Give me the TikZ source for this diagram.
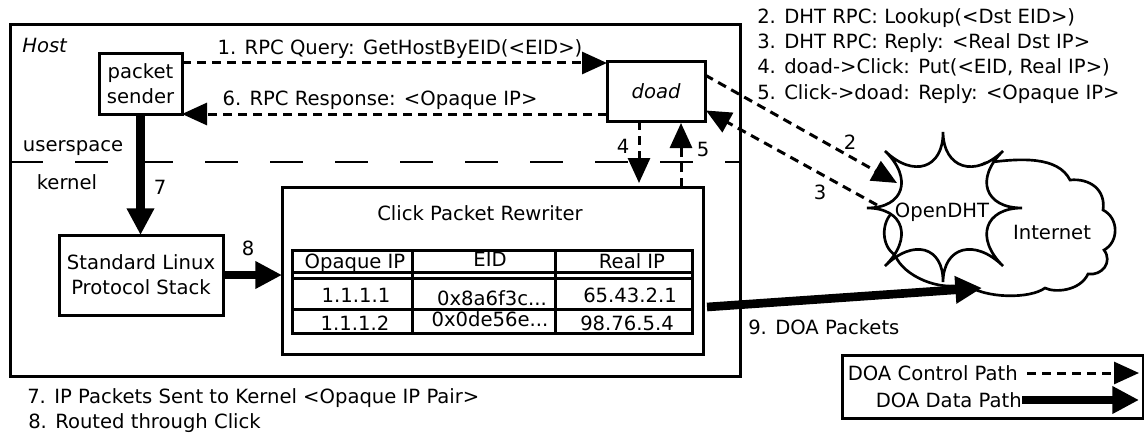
\documentclass[tikz,border=0pt]{standalone}
\usepackage{fontspec}
\setmainfont{DejaVu Sans}
\usetikzlibrary{arrows.meta,calc}
\begin{document}
\begin{tikzpicture}[x=0.75pt,y=-0.75pt,
  font=\fontsize{14.7pt}{18.75pt}\selectfont,
  box/.style={draw, line width=2.25pt, inner sep=0pt, outer sep=0pt, fill=white},
  ctrl/.style={line width=2.25pt, dash pattern=on 6.75pt off 4.5pt, -{Triangle[length=18.75pt,width=16.5pt]}},
  data/.style={line width=6.5pt, -{Triangle[length=20pt,width=19.5pt]}},
  lbl/.style={inner sep=0pt, text height=10.7pt, text depth=0pt},
  tline/.style={line width=2.25pt},
  cloudline/.style={line width=2pt, fill=white}
]
\useasboundingbox (0,0) rectangle (1144,435);

% host
\node[box, minimum width=547.5pt, minimum height=263.25pt] (host) at (375,200.5) {};
\node[lbl, anchor=west, font=\fontsize{14.7pt}{18.75pt}\selectfont\itshape] (hostlbl) at (22,45) {Host};

% userspace / kernel separator
\draw[line width=2pt, dash pattern=on 24.75pt off 24pt] ($(host.west)+(0,-38.5)$) -- ($(host.east)+(0,-38.5)$);
\node[lbl] (us) at (73,144) {userspace};
\node[lbl] (kern) at (67,182) {kernel};

% boxes
\node[box, minimum width=62.25pt, minimum height=45pt, align=center] (sender) at (140.5,84) {packet\\sender};
\node[box, minimum width=73.5pt, minimum height=44.25pt, font=\fontsize{14.7pt}{18.75pt}\selectfont\itshape] (doad) at (656,91.5) {doad};
\node[box, minimum width=123pt, minimum height=60pt, align=center] (stack) at (141,275) {Standard Linux\\Protocol Stack};
\node[box, minimum width=315.75pt, minimum height=125.25pt] (click) at (492.5,270.5) {};
\node[lbl] (clicklbl) at (480,213) {Click Packet Rewriter};

% table
\draw[tline] (292,250) rectangle (692,333);
\draw[tline] (292,272) -- (692,272);
\draw[tline] (292,278) -- (692,278);
\draw[tline] (292,309) -- (692,309);
\draw[tline] (412,250) -- (412,333);
\draw[tline] (555,250) -- (555,333);
\node[lbl] (h1) at (355,261) {Opaque IP};
\node[lbl] (h2) at (490,259) {EID};
\node[lbl] (h3) at (632,261) {Real IP};
\node[lbl] (r11) at (356,295) {1.1.1.1};
\node[lbl] (r12) at (492,298) {0x8a6f3c...};
\node[lbl] (r13) at (630,295) {65.43.2.1};
\node[lbl] (r21) at (355,323) {1.1.1.2};
\node[lbl] (r22) at (490,319) {0x0de56e...};
\node[lbl] (r23) at (627,323) {98.76.5.4};

% clouds
\draw[cloudline] (985,163) .. controls (1020,158) and (1058,156) .. (1070,180)
  .. controls (1090,178) and (1106,190) .. (1103,210)
  .. controls (1119,218) and (1119,242) .. (1104,250)
  .. controls (1113,262) and (1102,276) .. (1088,274)
  .. controls (1080,291) and (1055,293) .. (1045,288)
  .. controls (1030,299) and (985,299) .. (965,284)
  .. controls (940,292) and (903,276) .. (895,255)
  .. controls (881,246) and (881,222) .. (893,212)
  .. controls (930,200) and (960,175) .. (985,163) -- cycle;
\coordinate (C) at (944,208);
\coordinate (sT) at (943,132);
\coordinate (sUR) at (1003,151);
\coordinate (sR) at (1022,208);
\coordinate (sLR) at (1003,266);
\coordinate (sB) at (943,282);
\coordinate (sLL) at (885,266);
\coordinate (sL) at (867,208);
\coordinate (sUL) at (885,151);
\draw[cloudline] (sT)
  .. controls ($(sT)!0.48!(C)$) and ($(sUR)!0.48!(C)$) .. (sUR)
  .. controls ($(sUR)!0.48!(C)$) and ($(sR)!0.48!(C)$) .. (sR)
  .. controls ($(sR)!0.48!(C)$) and ($(sLR)!0.48!(C)$) .. (sLR)
  .. controls ($(sLR)!0.48!(C)$) and ($(sB)!0.48!(C)$) .. (sB)
  .. controls ($(sB)!0.48!(C)$) and ($(sLL)!0.48!(C)$) .. (sLL)
  .. controls ($(sLL)!0.48!(C)$) and ($(sL)!0.48!(C)$) .. (sL)
  .. controls ($(sL)!0.48!(C)$) and ($(sUL)!0.48!(C)$) .. (sUL)
  .. controls ($(sUL)!0.48!(C)$) and ($(sT)!0.48!(C)$) .. (sT) -- cycle;
\node[lbl] (dht) at (942,210) {OpenDHT};
\node[lbl] (net) at (1052,232) {Internet};
\coordinate (dht2) at (897,183);
\coordinate (dht3) at (877,205);
\coordinate (net9) at (982,288);

% control arrows
\draw[ctrl] ($(sender.north east)+(0,9)$) -- ($(doad.north west)+(0,1)$);
\node[lbl] (l1) at (400,47) {1. RPC Query: GetHostByEID(<EID>)};
\draw[ctrl] ($(doad.south west)+(0,-7)$) -- (sender.south east);
\node[lbl] (l6) at (380,98) {6. RPC Response: <Opaque IP>};
\draw[ctrl] ($(doad.south)+(-17,0)$) -- ($(click.north)+(146.5,-4)$);
\node[lbl] (l4) at (623,146) {4};
\draw[ctrl] ($(click.north)+(188.5,0)$) -- ($(doad.south)+(25,2)$);
\node[lbl] (l5) at (703,149) {5};
\draw[ctrl] ($(doad.north east)+(0,13)$) -- (dht2);
\node[lbl] (l2) at (850,142) {2};
\draw[ctrl] (dht3) -- ($(doad.east)+(1,19)$);
\node[lbl] (l3) at (820,192) {3};

% data arrows
\draw[data] (sender.south) -- (sender.south |- stack.north);
\node[lbl] (l7) at (160,187) {7};
\draw[data] (stack.east) -- (stack.east -| click.west);
\node[lbl] (l8) at (248,248) {8};
\draw[data] ($(click.east)+(4,36.5)$) -- (net9);
\node[lbl, anchor=west] (l9) at (748,327) {9. DOA Packets};

% notes
\node[lbl, anchor=west] (n2) at (757,16) {2. DHT RPC: Lookup(<Dst EID>)};
\node[lbl, anchor=west] (n3) at (757,41) {3. DHT RPC: Reply: <Real Dst IP>};
\node[lbl, anchor=west] (n4) at (757,66) {4. doad->Click: Put(<EID, Real IP>)};
\node[lbl, anchor=west] (n5) at (757,92) {5. Click->doad: Reply: <Opaque IP>};
\node[lbl, anchor=west] (n7) at (27,396) {7. IP Packets Sent to Kernel <Opaque IP Pair>};
\node[lbl, anchor=west] (n8) at (28,421) {8. Routed through Click};

% legend
\node[box, minimum width=225.75pt, minimum height=47.25pt] (legend) at (992.5,386.5) {};
\node[lbl, anchor=east] (lc) at (1018,373) {DOA Control Path};
\node[lbl, anchor=east] (ld) at (1022,400) {DOA Data Path};
\coordinate (lcs) at (1027,373);
\coordinate (lce) at (1139,373);
\coordinate (lds) at (1022,400);
\coordinate (lde) at (1139,400);
\draw[ctrl] (lcs) -- (lce);
\draw[data] (lds) -- (lde);
\end{tikzpicture}
\end{document}
